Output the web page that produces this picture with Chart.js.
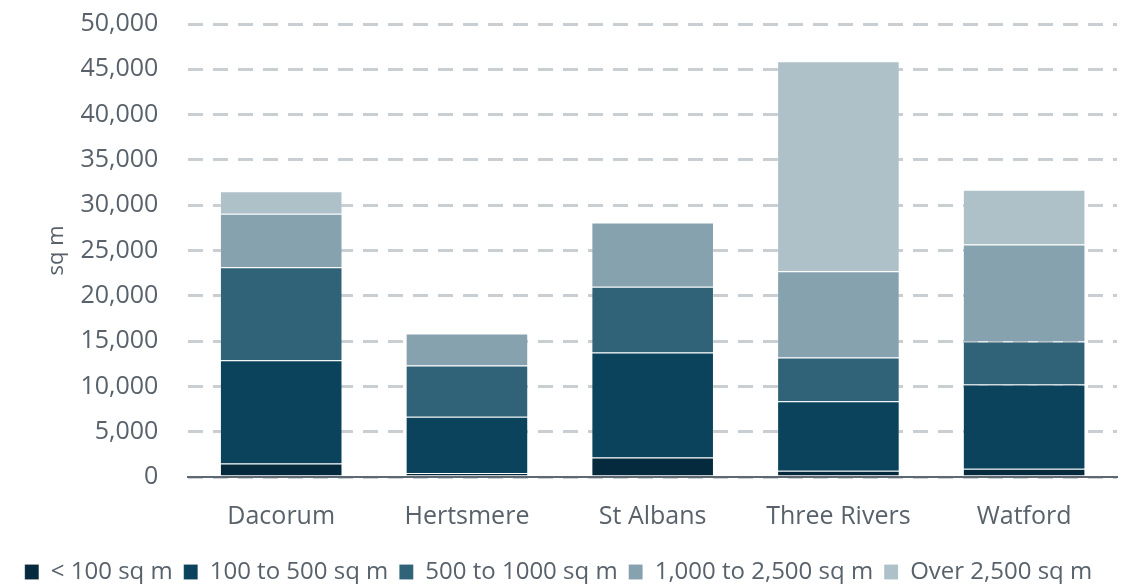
<!DOCTYPE html>
<html>
<head>
<meta charset="utf-8">
<script src="https://cdn.jsdelivr.net/npm/chart.js@4/dist/chart.umd.min.js"></script>
<style>
  html, body { margin: 0; padding: 0; background: #ffffff; }
  #wrap { width: 1142px; height: 584px; }
</style>
</head>
<body>
<div id="wrap"><canvas id="chart-canvas"></canvas></div>
<script>
// districts along the x axis
const districts = ['Dacorum', 'Hertsmere', 'St Albans', 'Three Rivers', 'Watford'];
// floorspace by unit size band (sq m)
const under100 = [1500, 450, 2150, 700, 900];
const from100to500 = [11400, 6200, 11600, 7650, 9300];
const from500to1000 = [10250, 5650, 7250, 4850, 4750];
const from1000to2500 = [5900, 3550, 7100, 9500, 10700];
const over2500 = [2500, 0, 0, 23200, 6050];
const yTicks = { min: 0, max: 50000, step: 5000 };

document.addEventListener('DOMContentLoaded', function() {
    const ctx = document.getElementById('chart-canvas');
    const textCol = '#59626b';
    const fontFam = "'Open Sans', 'Noto Sans', sans-serif";
    const segBorder = 'rgba(255,255,255,0.15)';
    var chart = new Chart(ctx, {
        type: 'bar',
        data: {
            labels: districts,
            datasets: [
                { label: '< 100 sq m', data: under100, backgroundColor: '#062a3d' },
                { label: '100 to 500 sq m', data: from100to500, backgroundColor: '#0b435c' },
                { label: '500 to 1000 sq m', data: from500to1000, backgroundColor: '#306378' },
                { label: '1,000 to 2,500 sq m', data: from1000to2500, backgroundColor: '#86a2af' },
                { label: 'Over 2,500 sq m', data: over2500, backgroundColor: '#aec1c8' }
            ].map(function(d) {
                d.borderColor = segBorder;
                d.borderWidth = 1;
                d.barPercentage = 0.66;
                d.categoryPercentage = 1.0;
                return d;
            })
        },
        options: {
            responsive: true,
            maintainAspectRatio: false,
            animation: false,
            layout: { padding: { left: 0, right: 25, top: 24, bottom: -10 } },
            plugins: {
                legend: {
                    display: true,
                    position: 'bottom',
                    labels: {
                        color: textCol,
                        font: { family: fontFam, size: 24 },
                        boxWidth: 14,
                        boxHeight: 15,
                        padding: 11
                    }
                },
                tooltip: { enabled: false }
            },
            scales: {
                x: {
                    stacked: true,
                    grid: { display: false, drawTicks: false },
                    border: { display: true, color: '#5d6870', width: 2 },
                    ticks: {
                        color: textCol,
                        font: { family: fontFam, size: 25 },
                        padding: 25
                    },
                    afterFit: function(scale) { scale.height -= 8; }
                },
                y: {
                    stacked: true,
                    min: yTicks.min,
                    max: yTicks.max,
                    grid: {
                        color: '#c9ced2',
                        lineWidth: 3,
                        drawTicks: true,
                        tickLength: 24,
                        tickColor: 'rgba(0,0,0,0)'
                    },
                    border: { display: false, dash: [15, 10] },
                    ticks: {
                        stepSize: yTicks.step,
                        color: textCol,
                        font: { family: fontFam, size: 25 },
                        padding: 6
                    },
                    title: {
                        display: true,
                        text: 'sq m',
                        color: textCol,
                        font: { family: fontFam, size: 22 },
                        padding: { top: 44, bottom: 4 }
                    }
                }
            }
        }
    });
});
</script>
</body>
</html>
